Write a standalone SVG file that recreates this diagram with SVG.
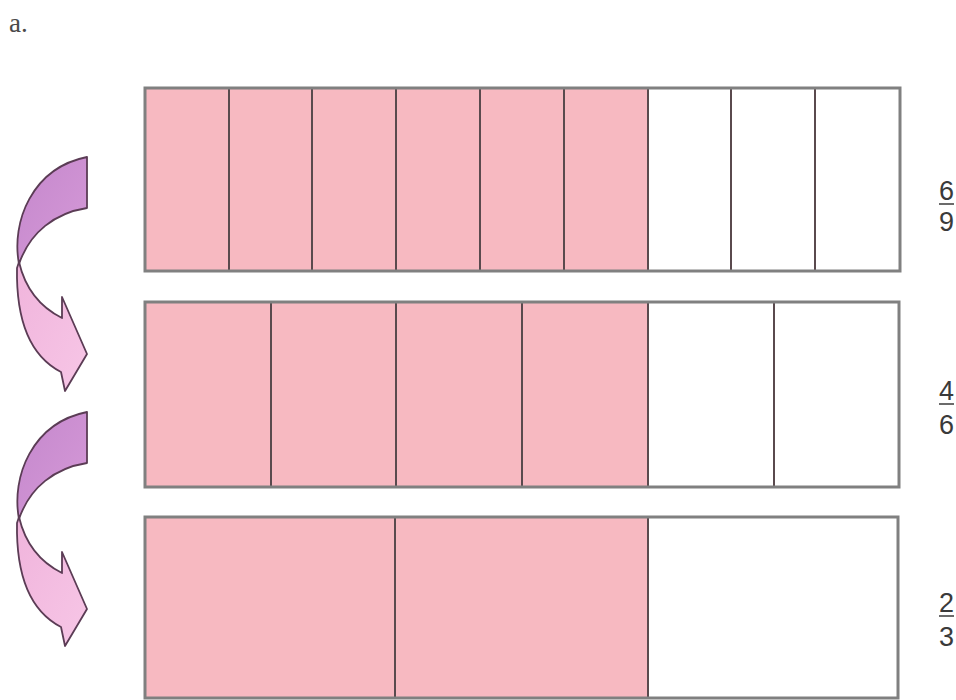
<svg xmlns="http://www.w3.org/2000/svg" width="956" height="700" viewBox="0 0 956 700">
<style>
.cell{fill:#f7b9c1;}
.blank{fill:#ffffff;}
.frame{fill:none;stroke:#808080;stroke-width:3;}
.div{stroke:#5a4a4e;stroke-width:2;}
.num{font-family:"Liberation Sans",Arial,sans-serif;font-size:27px;fill:#3a3a3a;}
.lbl{font-family:"Liberation Serif","Times New Roman",serif;font-size:27px;fill:#4a4a4a;}
.bar{stroke:#3a3a3a;stroke-width:1.5;}
.up{fill:url(#gUp);stroke:#5b3c55;stroke-width:1.8;stroke-linejoin:round;}
.lo{fill:url(#gLo);stroke:#5b3c55;stroke-width:1.8;stroke-linejoin:round;}
</style>
<defs>
<linearGradient id="gUp" x1="0" y1="0" x2="1" y2="1">
<stop offset="0" stop-color="#c487cc"/>
<stop offset="1" stop-color="#d69ad8"/>
</linearGradient>
<linearGradient id="gLo" x1="0" y1="0" x2="1" y2="1">
<stop offset="0" stop-color="#f0b4dc"/>
<stop offset="1" stop-color="#f7c6e6"/>
</linearGradient>
<g id="curvedArrow">
<path class="lo" d="M19,262 C26,292 42,308 62,318 L62,297 L87,354 L65,391 L61,372 C30,356 16,322 17,268 Z"/>
<path class="up" d="M87,157 L87,208 C55,213 30,232 19,264 C11,222 32,168 87,157 Z"/>
</g>
</defs>
<text class="lbl" x="9" y="32">a.</text>
<g id="arrow1"><use href="#curvedArrow"/></g>
<g id="arrow2"><use href="#curvedArrow" transform="translate(0,255)"/></g>
<g id="row1">
<rect class="blank" x="145" y="88" width="755" height="183"/>
<rect class="cell" x="145" y="88" width="503" height="183"/>
<line class="div" x1="229" y1="88" x2="229" y2="271"/>
<line class="div" x1="312" y1="88" x2="312" y2="271"/>
<line class="div" x1="396" y1="88" x2="396" y2="271"/>
<line class="div" x1="480" y1="88" x2="480" y2="271"/>
<line class="div" x1="564" y1="88" x2="564" y2="271"/>
<line class="div" x1="648" y1="88" x2="648" y2="271"/>
<line class="div" x1="731" y1="88" x2="731" y2="271"/>
<line class="div" x1="815" y1="88" x2="815" y2="271"/>
<rect class="frame" x="145" y="88" width="755" height="183"/>
</g>
<g id="row2">
<rect class="blank" x="145" y="302" width="754" height="185"/>
<rect class="cell" x="145" y="302" width="503" height="185"/>
<line class="div" x1="271" y1="302" x2="271" y2="487"/>
<line class="div" x1="396" y1="302" x2="396" y2="487"/>
<line class="div" x1="522" y1="302" x2="522" y2="487"/>
<line class="div" x1="648" y1="302" x2="648" y2="487"/>
<line class="div" x1="774" y1="302" x2="774" y2="487"/>
<rect class="frame" x="145" y="302" width="754" height="185"/>
</g>
<g id="row3">
<rect class="blank" x="145" y="517" width="753" height="181"/>
<rect class="cell" x="145" y="517" width="503" height="181"/>
<line class="div" x1="395" y1="517" x2="395" y2="698"/>
<line class="div" x1="648" y1="517" x2="648" y2="698"/>
<rect class="frame" x="145" y="517" width="753" height="181"/>
</g>
<g id="frac1">
<text class="num" x="939" y="200">6</text>
<line class="bar" x1="939" y1="204" x2="954" y2="204"/>
<text class="num" x="939" y="231">9</text>
</g>
<g id="frac2">
<text class="num" x="939" y="400">4</text>
<line class="bar" x1="939" y1="404" x2="954" y2="404"/>
<text class="num" x="939" y="434">6</text>
</g>
<g id="frac3">
<text class="num" x="939" y="612">2</text>
<line class="bar" x1="939" y1="616" x2="954" y2="616"/>
<text class="num" x="939" y="646">3</text>
</g>
</svg>
